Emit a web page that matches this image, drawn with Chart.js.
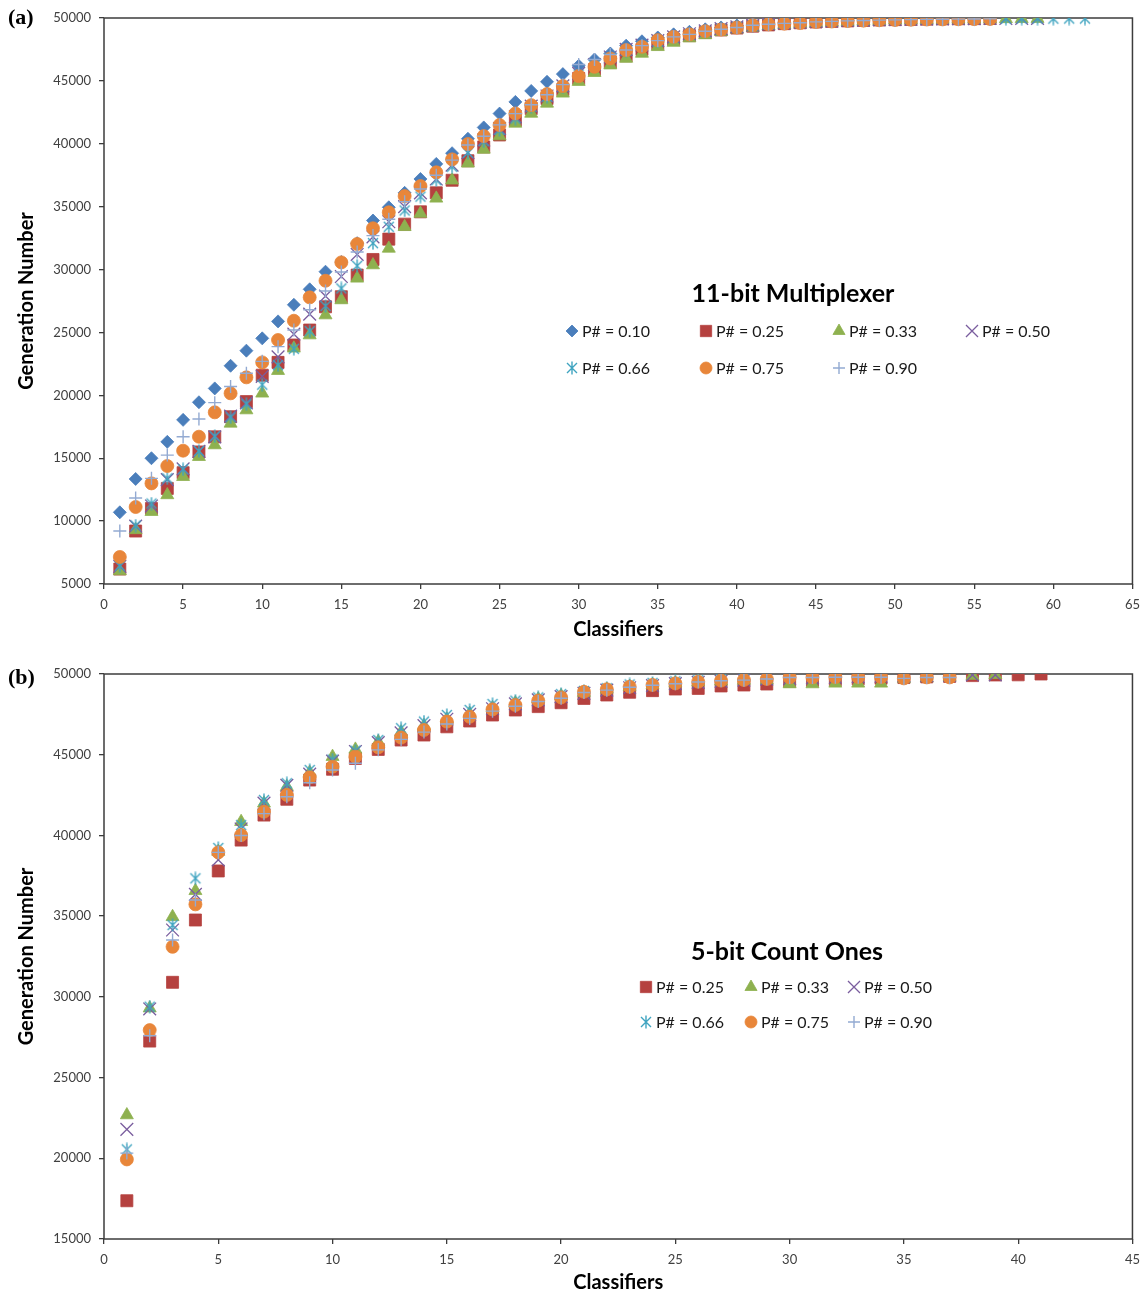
<!DOCTYPE html>
<html lang="en">
<head>
<meta charset="UTF-8">
<title>Classifiers vs Generation Number</title>
<style>
  html, body { margin: 0; padding: 0; background: #fff; }
  .panel { position: absolute; left: 0; width: 1148px; }
  #panelA { top: 0; height: 650px; }
  #panelB { top: 650px; height: 653px; }
</style>
</head>
<body>
<div class="panel" id="panelA"><canvas id="chartA"></canvas></div>
<div class="panel" id="panelB"><canvas id="chartB"></canvas></div>

<script src="https://cdn.jsdelivr.net/npm/chart.js"></script>
<script>
// ---- (a) 11-bit multiplexer: generation number for classifier counts 1, 2, 3, ...
const muxLabels = ['P# = 0.10', 'P# = 0.25', 'P# = 0.33', 'P# = 0.50', 'P# = 0.66', 'P# = 0.75', 'P# = 0.90'];
const mux010 = [10700, 13350, 15000, 16300, 18050, 19450, 20550, 22350, 23550, 24530, 25880, 27200, 28430, 29830, 30600, 32100, 33900, 34950, 36100, 37200,
  38400, 39250, 40400, 41300, 42400, 43330, 44200, 44930, 45540, 46200, 46700, 47180, 47800, 48150, 48450, 48700, 48900, 49100, 49250, 49400,
  49530, 49600, 49660, 49720, 49760, 49800, 49830, 49860, 49880, 49900, 49920, 49930, 49940, 49950, 49960, 49970];
const mux025 = [6190, 9210, 11000, 12600, 13850, 15500, 16700, 18300, 19500, 21600, 22620, 24000, 25190, 27040, 27840, 29560, 30800, 32420, 33610, 34590,
  36100, 37100, 38650, 39750, 40700, 41880, 42800, 43600, 44300, 45200, 45900, 46500, 47000, 47500, 47950, 48300, 48600, 48850, 49050, 49200,
  49350, 49450, 49550, 49620, 49680, 49730, 49770, 49810, 49840, 49870, 49890, 49910, 49930, 49940, 49950, 49960];
const mux033 = [6030, 9300, 10750, 12080, 13530, 15120, 16050, 17770, 18830, 20160, 21960, 23740, 24790, 26380, 27580, 29300, 30360, 31680, 33400, 34460,
  35660, 37100, 38450, 39550, 40610, 41620, 42410, 43210, 44010, 44940, 45650, 46250, 46780, 47180, 47710, 48050, 48400, 48650, 48900, 49100,
  49250, 49380, 49480, 49560, 49620, 49680, 49720, 49760, 49800, 49830, 49850, 49870, 49890, 49900, 49910, 49920, 49930, 49940, 49950];
const mux050 = [6400, 9600, 11200, 13300, 14150, 15550, 16700, 18350, 19400, 21500, 23060, 24870, 26460, 27890, 29450, 31200, 32600, 33800, 35000, 36100,
  37200, 38300, 39300, 40300, 41200, 42150, 43000, 43800, 44600, 45600, 46300, 46900, 47500, 47850, 48200, 48500, 48750, 48980, 49150, 49300,
  49420, 49520, 49600, 49660, 49720, 49760, 49800, 49830, 49860, 49880, 49900, 49920, 49930, 49940, 49950, 49960, 49960, 49970, 49970];
const mux066 = [6450, 9650, 11400, 13400, 14120, 15570, 16750, 18250, 19300, 20850, 22400, 23700, 25100, 27100, 28500, 30300, 32100, 33400, 34700, 35800,
  37110, 38180, 39290, 40200, 41100, 42000, 42950, 43750, 44550, 45500, 46250, 46850, 47400, 47800, 48150, 48450, 48700, 48950, 49120, 49280,
  49400, 49500, 49580, 49650, 49700, 49750, 49790, 49820, 49850, 49870, 49890, 49910, 49920, 49930, 49940, 49950, 49950, 49960, 49960, 49950,
  49960, 49960];
const mux075 = [7150, 11120, 13000, 14380, 15600, 16710, 18650, 20160, 21430, 22620, 24400, 25930, 27790, 29110, 30570, 32030, 33280, 34550, 35840, 36640,
  37730, 38760, 39980, 40610, 41490, 42410, 43070, 43950, 44590, 45380, 46120, 46780, 47450, 47710, 48240, 48500, 48700, 48950, 49080, 49240,
  49420, 49500, 49550, 49600, 49680, 49720, 49760, 49790, 49820, 49840, 49860, 49880, 49890, 49900, 49910, 49920];
const mux090 = [9210, 11840, 13400, 15250, 16710, 18120, 19420, 20700, 21750, 22700, 23870, 25200, 26800, 28300, 29800, 31400, 32700, 34000, 35400, 36400,
  37500, 38700, 39900, 40600, 41500, 42400, 43100, 43900, 44700, 46300, 46700, 47100, 47450, 47800, 48200, 48500, 48700, 48950, 49100, 49250,
  49420, 49500, 49570, 49620, 49690, 49730, 49770, 49800, 49830, 49850, 49870, 49890, 49900, 49910, 49920, 49930];
const muxXTicks = [0, 65, 5];       // min, max, step
const muxYTicks = [5000, 50000, 5000];

// ---- (b) 5-bit count ones
const cntLabels = ['P# = 0.25', 'P# = 0.33', 'P# = 0.50', 'P# = 0.66', 'P# = 0.75', 'P# = 0.90'];
const cnt025 = [17370, 27260, 30900, 34760, 37800, 39710, 41260, 42240, 43430, 44100, 44770, 45330, 45910, 46220, 46730, 47090, 47460, 47770, 47980, 48220,
  48490, 48700, 48870, 48970, 49070, 49110, 49260, 49320, 49380, 49550, 49600, 49650, 49700, 49740, 49780, 49820, 49850, 49900, 49940, 49950, 50000];
const cnt033 = [22680, 29300, 34960, 36570, 39000, 40850, 41990, 43020, 43900, 44880, 45330, 45800, 46400, 46800, 47200, 47550, 47900, 48200, 48450, 48650,
  48850, 49050, 49220, 49330, 49430, 49500, 49550, 49600, 49620, 49380, 49380, 49420, 49420, 49420, 49700, 49750, 49800, 49900, 49950];
const cnt050 = [21790, 29250, 34140, 36350, 38490, 40400, 42000, 43100, 43800, 44600, 45200, 45750, 46350, 46800, 47200, 47500, 47850, 48150, 48400, 48600,
  48800, 49000, 49150, 49280, 49400, 49480, 49550, 49620, 49680, 49720, 49760, 49800, 49830, 49860, 49880, 49900, 49920, 49940, 49950];
const cnt066 = [20550, 29390, 34450, 37340, 39220, 40640, 42190, 43230, 44050, 44700, 45250, 45910, 46640, 47050, 47460, 47770, 48140, 48350, 48550, 48750,
  48950, 49120, 49350, 49450, 49550, 49620, 49680, 49720, 49760, 49800, 49820, 49850, 49870, 49880, 49890, 49900, 49910];
const cnt075 = [19930, 27940, 33100, 35730, 38950, 40020, 41470, 42510, 43600, 44260, 44880, 45460, 46060, 46530, 47050, 47350, 47810, 48080, 48350, 48550,
  48900, 49050, 49210, 49320, 49420, 49520, 49590, 49630, 49690, 49790, 49790, 49810, 49810, 49810, 49730, 49790, 49790];
const cnt090 = [20320, 27590, 33520, 36000, 38950, 40000, 41350, 42400, 43260, 44050, 44470, 45300, 45950, 46400, 46900, 47250, 47700, 48000, 48300, 48500,
  48850, 49000, 49180, 49300, 49400, 49500, 49580, 49620, 49690, 49780, 49780, 49800, 49800, 49800, 49730, 49780, 49780];
const cntXTicks = [0, 45, 5];
const cntYTicks = [15000, 50000, 5000];

// Excel-like asterisk marker (vertical bar + X), drawn once into a small canvas
function asterisk(color) {
  const c = document.createElement('canvas');
  c.width = 14; c.height = 14;
  const g = c.getContext('2d');
  g.strokeStyle = color;
  g.lineWidth = 1.4;
  g.beginPath();
  g.moveTo(7, 0.5); g.lineTo(7, 13.5);
  g.moveTo(2, 2); g.lineTo(12, 12);
  g.moveTo(12, 2); g.lineTo(2, 12);
  g.stroke();
  return c;
}

// marker look per P# value
const markers = {
  'P# = 0.10': { pointStyle: 'rectRot',   radius: 6.5, color: '#4A7EBB' },
  'P# = 0.25': { pointStyle: 'rect',      radius: 8.5, color: '#B5413F' },
  'P# = 0.33': { pointStyle: 'triangle',  radius: 7.5, color: '#8EB14F' },
  'P# = 0.50': { pointStyle: 'crossRot',  radius: 9,   color: '#7A5D9E', line: 1.3 },
  'P# = 0.66': { pointStyle: asterisk('#3FA4C0'), radius: 7, color: '#3FA4C0', line: 1.3 },
  'P# = 0.75': { pointStyle: 'circle',    radius: 6.5, color: '#E8863A' },
  'P# = 0.90': { pointStyle: 'cross',     radius: 6.5, color: '#93AAD2', line: 1.4 }
};

function makeDatasets(labels, series) {
  return series.map((values, i) => {
    const m = markers[labels[i]];
    const lineOnly = !!m.line;
    return {
      label: labels[i],
      data: values.map((v, k) => ({ x: k + 1, y: v })),
      pointStyle: m.pointStyle,
      pointRadius: m.radius,
      pointHoverRadius: m.radius,
      backgroundColor: m.color,
      borderColor: m.color,
      pointBorderWidth: lineOnly ? m.line : 0.8,
      showLine: false,
      order: series.length - i   // later series painted on top
    };
  });
}

// plot frame, panel tag, in-plot title and legend
const panelDecor = {
  id: 'panelDecor',
  beforeDatasetsDraw(chart) {
    const { ctx, chartArea: a } = chart;
    ctx.save();
    ctx.strokeStyle = '#3c3c3c';
    ctx.lineWidth = 1.5;
    ctx.strokeRect(a.left, a.top, a.right - a.left, a.bottom - a.top);
    ctx.restore();
  },
  afterDraw(chart, args, o) {
    const ctx = chart.ctx;
    ctx.save();
    ctx.fillStyle = '#000';
    ctx.textBaseline = 'middle';
    ctx.font = 'bold 22px "Liberation Serif"';
    ctx.textAlign = 'left';
    ctx.fillText(o.tag, 8, o.tagY);

    ctx.textAlign = 'center';
    ctx.font = 'bold 25px Lato';
    ctx.fillText(o.title, o.titleX, o.titleY);

    ctx.font = '16px Lato';
    ctx.textAlign = 'left';
    o.items.forEach(it => {
      const ds = chart.data.datasets[it.ds];
      ctx.fillStyle = ds.backgroundColor;
      ctx.strokeStyle = ds.borderColor;
      ctx.lineWidth = ds.pointBorderWidth;
      Chart.helpers.drawPoint(ctx, {
        pointStyle: ds.pointStyle, radius: ds.pointRadius - 0.5, borderWidth: ds.pointBorderWidth, rotation: 0
      }, it.x, it.y);
      ctx.fillStyle = '#1a1a1a';
      ctx.fillText(ds.label, it.x + 10, it.y + 1);
    });
    ctx.restore();
  }
};

function scales(xt, yt, xHeight) {
  const tickFont = { family: 'Lato', size: 13 };
  const titleFont = { family: 'Lato', size: 20, weight: 'bold' };
  return {
    x: {
      type: 'linear', min: xt[0], max: xt[1],
      ticks: { stepSize: xt[2], font: tickFont, color: '#404040', padding: 8 },
      grid: { drawOnChartArea: false, tickLength: 5, color: '#3c3c3c', lineWidth: 1.3 },
      border: { display: false },
      title: { display: true, text: 'Classifiers', font: titleFont, color: '#000', padding: { top: 0, bottom: 8 } },
      afterFit(s) { s.height = xHeight; }
    },
    y: {
      type: 'linear', min: yt[0], max: yt[1],
      ticks: { stepSize: yt[2], font: tickFont, color: '#404040', padding: 8, callback: v => String(v) },
      grid: { drawOnChartArea: false, tickLength: 5, color: '#3c3c3c', lineWidth: 1.3 },
      border: { display: false },
      title: { display: true, text: 'Generation Number', font: titleFont, color: '#000', padding: { top: 15, bottom: 0 } },
      afterFit(s) { s.width = 104; }
    }
  };
}

function baseOptions(xt, yt, top, xHeight, decor) {
  return {
    responsive: true,
    maintainAspectRatio: false,
    animation: false,
    events: [],
    layout: { padding: { left: 0, right: 10, top: top, bottom: 0 } },
    scales: scales(xt, yt, xHeight),
    plugins: { legend: { display: false }, tooltip: { enabled: false }, panelDecor: decor }
  };
}

new Chart(document.getElementById('chartA'), {
  type: 'scatter',
  data: { datasets: makeDatasets(muxLabels, [mux010, mux025, mux033, mux050, mux066, mux075, mux090]) },
  options: baseOptions(muxXTicks, muxYTicks, 18, 66, {
    tag: '(a)', tagY: 18,
    title: '11-bit Multiplexer', titleX: 793, titleY: 294,
    items: [
      { ds: 0, x: 572, y: 331 }, { ds: 1, x: 706, y: 331 }, { ds: 2, x: 839, y: 331 }, { ds: 3, x: 972, y: 331 },
      { ds: 4, x: 572, y: 368 }, { ds: 5, x: 706, y: 368 }, { ds: 6, x: 839, y: 368 }
    ]
  }),
  plugins: [panelDecor]
});

new Chart(document.getElementById('chartB'), {
  type: 'scatter',
  data: { datasets: makeDatasets(cntLabels, [cnt025, cnt033, cnt050, cnt066, cnt075, cnt090]) },
  options: baseOptions(cntXTicks, cntYTicks, 24, 64, {
    tag: '(b)', tagY: 28,
    title: '5-bit Count Ones', titleX: 787, titleY: 302,
    items: [
      { ds: 0, x: 646, y: 337 }, { ds: 1, x: 751, y: 337 }, { ds: 2, x: 854, y: 337 },
      { ds: 3, x: 646, y: 372 }, { ds: 4, x: 751, y: 372 }, { ds: 5, x: 854, y: 372 }
    ]
  }),
  plugins: [panelDecor]
});
</script>
</body>
</html>
